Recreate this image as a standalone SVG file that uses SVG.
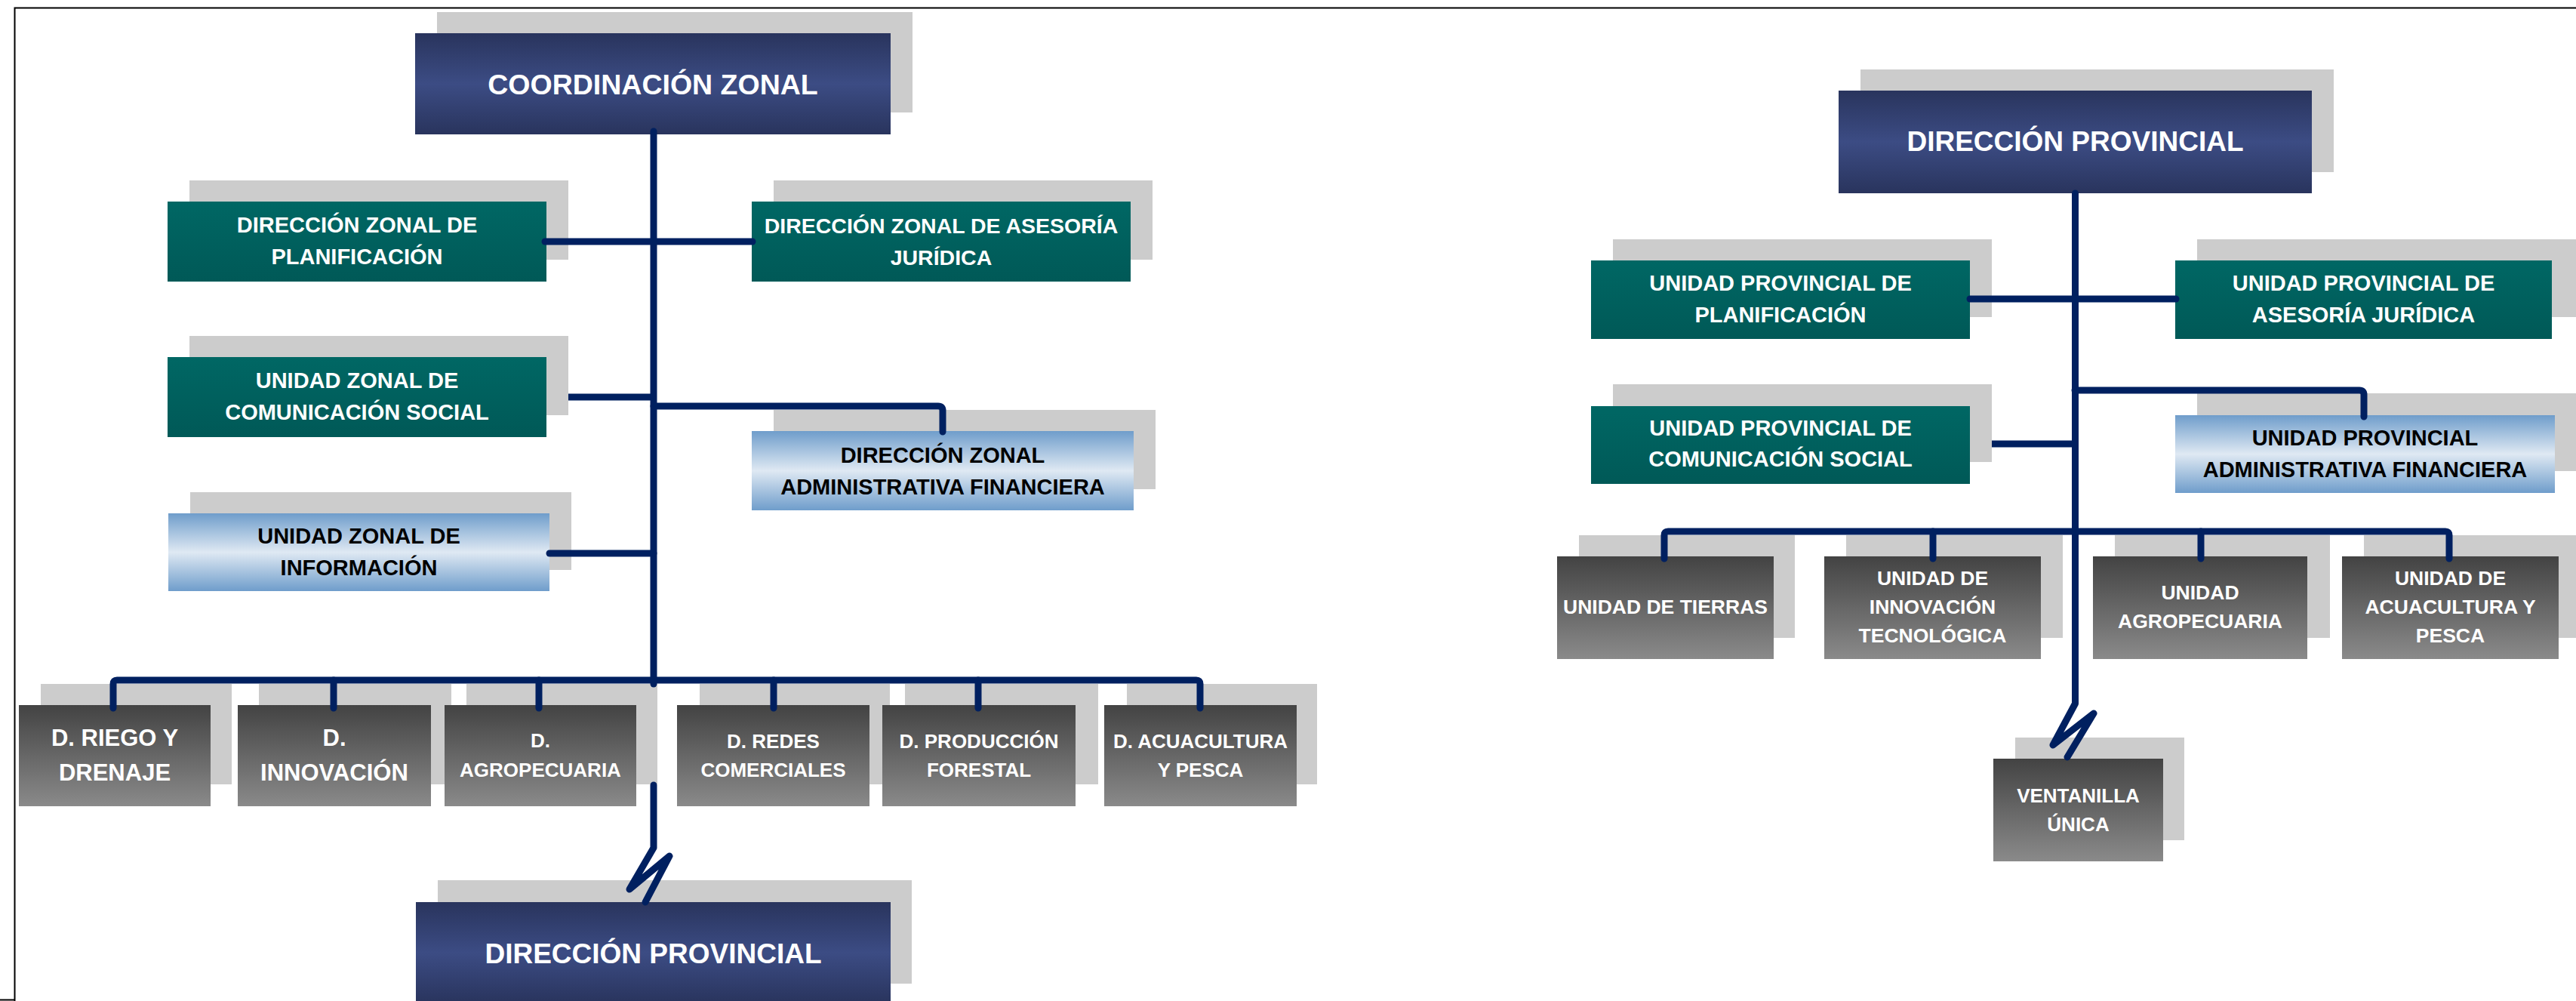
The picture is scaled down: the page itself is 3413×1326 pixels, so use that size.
<svg xmlns="http://www.w3.org/2000/svg" width="3413" height="1326" viewBox="0 0 3413 1326">
<defs>
<linearGradient id="gNavy" x1="0" y1="0" x2="0" y2="1">
<stop offset="0" stop-color="#29345d"/><stop offset="0.5" stop-color="#3c4c84"/><stop offset="1" stop-color="#29345d"/>
</linearGradient>
<linearGradient id="gTeal" x1="0" y1="0" x2="0" y2="1">
<stop offset="0" stop-color="#006764"/><stop offset="1" stop-color="#005957"/>
</linearGradient>
<linearGradient id="gBlue" x1="0" y1="0" x2="0" y2="1">
<stop offset="0" stop-color="#6f9dcb"/><stop offset="0.5" stop-color="#dfe9f3"/><stop offset="1" stop-color="#6f9dcb"/>
</linearGradient>
<linearGradient id="gGray" x1="0" y1="0" x2="0" y2="1">
<stop offset="0" stop-color="#434343"/><stop offset="1" stop-color="#8a8a8a"/>
</linearGradient>
</defs>
<style>
.sh{fill:#cccccc}
.navy{fill:url(#gNavy)}
.teal{fill:url(#gTeal)}
.blue{fill:url(#gBlue)}
.gray{fill:url(#gGray)}
text{font-family:"Liberation Sans",Arial,sans-serif;font-weight:bold;text-anchor:middle}
.w{fill:#ffffff}
.k{fill:#000000}
.t37{font-size:37.5px}
.t29{font-size:29px}
.t31{font-size:31px}
.t26{font-size:26px}
.t265{font-size:26.5px}
.c{fill:none;stroke:#002060;stroke-width:9;stroke-linecap:round;stroke-linejoin:round}
.cb{stroke-linecap:butt}
.frame{fill:none;stroke:#000;stroke-width:2}
</style>
<rect width="3413" height="1326" fill="#ffffff"/>
<g id="frame">
<path class="frame" d="M19.5,1326 V10.5 H3413"/>
<path class="frame" d="M0,1324.5 H20"/>
</g>

<g id="n-coordinacion-zonal">
<rect class="sh" x="579" y="16" width="630" height="133"/>
<rect class="navy" x="550" y="44" width="630" height="134"/>
<text class="w t37" x="865" y="125">COORDINACIÓN ZONAL</text>
</g>
<g id="n-dz-planificacion">
<rect class="sh" x="251" y="239" width="502" height="105"/>
<rect class="teal" x="222" y="267" width="502" height="106"/>
<text class="w t29" x="473" y="308">DIRECCIÓN ZONAL DE</text>
<text class="w t29" x="473" y="350">PLANIFICACIÓN</text>
</g>
<g id="n-dz-asesoria">
<rect class="sh" x="1025" y="239" width="502" height="105"/>
<rect class="teal" x="996" y="267" width="502" height="106"/>
<text class="w" style="font-size:28.5px" x="1247" y="309">DIRECCIÓN ZONAL DE ASESORÍA</text>
<text class="w" style="font-size:28.5px" x="1247" y="351">JURÍDICA</text>
</g>
<g id="n-uz-comunicacion">
<rect class="sh" x="251" y="445" width="502" height="105"/>
<rect class="teal" x="222" y="473" width="502" height="106"/>
<text class="w t29" x="473" y="514">UNIDAD ZONAL DE</text>
<text class="w t29" x="473" y="556">COMUNICACIÓN SOCIAL</text>
</g>
<g id="n-dz-administrativa">
<rect class="sh" x="1025" y="543" width="506" height="105"/>
<rect class="blue" x="996" y="571" width="506" height="105"/>
<text class="k t29" x="1249" y="613">DIRECCIÓN ZONAL</text>
<text class="k t29" x="1249" y="655">ADMINISTRATIVA FINANCIERA</text>
</g>
<g id="n-uz-informacion">
<rect class="sh" x="252" y="652" width="505" height="103"/>
<rect class="blue" x="223" y="680" width="505" height="103"/>
<text class="k t29" x="475.5" y="720">UNIDAD ZONAL DE</text>
<text class="k t29" x="475.5" y="762">INFORMACIÓN</text>
</g>
<g id="n-d-riego">
<rect class="sh" x="54" y="906" width="253" height="133"/>
<rect class="gray" x="25" y="934" width="254" height="134"/>
<text class="w t31" x="152" y="988">D. RIEGO Y</text>
<text class="w t31" x="152" y="1034">DRENAJE</text>
</g>
<g id="n-d-innovacion">
<rect class="sh" x="343" y="906" width="255" height="133"/>
<rect class="gray" x="315" y="934" width="256" height="134"/>
<text class="w t31" x="443" y="988">D.</text>
<text class="w t31" x="443" y="1034">INNOVACIÓN</text>
</g>
<g id="n-d-agropecuaria">
<rect class="sh" x="618" y="906" width="253" height="133"/>
<rect class="gray" x="589" y="934" width="254" height="134"/>
<text class="w t26" x="716" y="990">D.</text>
<text class="w t26" x="716" y="1029">AGROPECUARIA</text>
</g>
<g id="n-d-redes">
<rect class="sh" x="927" y="906" width="252" height="133"/>
<rect class="gray" x="897" y="934" width="255" height="134"/>
<text class="w t26" x="1024.5" y="991">D. REDES</text>
<text class="w t26" x="1024.5" y="1029">COMERCIALES</text>
</g>
<g id="n-d-forestal">
<rect class="sh" x="1199" y="906" width="256" height="133"/>
<rect class="gray" x="1169" y="934" width="256" height="134"/>
<text class="w t26" x="1297" y="991">D. PRODUCCIÓN</text>
<text class="w t26" x="1297" y="1029">FORESTAL</text>
</g>
<g id="n-d-acuacultura">
<rect class="sh" x="1493" y="906" width="252" height="133"/>
<rect class="gray" x="1463" y="934" width="255" height="134"/>
<text class="w t26" x="1590.5" y="991">D. ACUACULTURA</text>
<text class="w t26" x="1590.5" y="1029">Y PESCA</text>
</g>
<g id="n-dp-left">
<rect class="sh" x="580" y="1166" width="628" height="137"/>
<rect class="navy" x="551" y="1195" width="629" height="134"/>
<text class="w" style="font-size:37px" x="865.5" y="1276">DIRECCIÓN PROVINCIAL</text>
</g>

<g id="n-dp-right">
<rect class="sh" x="2465" y="92" width="627" height="136"/>
<rect class="navy" x="2436" y="120" width="627" height="136"/>
<text class="w" style="font-size:37px" x="2749.5" y="200">DIRECCIÓN PROVINCIAL</text>
</g>
<g id="n-up-planificacion">
<rect class="sh" x="2137" y="317" width="502" height="103"/>
<rect class="teal" x="2108" y="345" width="502" height="104"/>
<text class="w t29" x="2359" y="385">UNIDAD PROVINCIAL DE</text>
<text class="w t29" x="2359" y="427">PLANIFICACIÓN</text>
</g>
<g id="n-up-asesoria">
<rect class="sh" x="2911" y="317" width="502" height="103"/>
<rect class="teal" x="2882" y="345" width="499" height="104"/>
<text class="w t29" x="3131.5" y="385">UNIDAD PROVINCIAL DE</text>
<text class="w t29" x="3131.5" y="427">ASESORÍA JURÍDICA</text>
</g>
<g id="n-up-comunicacion">
<rect class="sh" x="2137" y="509" width="502" height="103"/>
<rect class="teal" x="2108" y="538" width="502" height="103"/>
<text class="w t29" x="2359" y="577">UNIDAD PROVINCIAL DE</text>
<text class="w t29" x="2359" y="618">COMUNICACIÓN SOCIAL</text>
</g>
<g id="n-up-administrativa">
<rect class="sh" x="2911" y="521" width="503" height="103"/>
<rect class="blue" x="2882" y="550" width="503" height="103"/>
<text class="k t29" x="3133.5" y="590">UNIDAD PROVINCIAL</text>
<text class="k t29" x="3133.5" y="632">ADMINISTRATIVA FINANCIERA</text>
</g>
<g id="n-u-tierras">
<rect class="sh" x="2092" y="709" width="286" height="136"/>
<rect class="gray" x="2063" y="737" width="287" height="136"/>
<text class="w t265" x="2206.5" y="813">UNIDAD DE TIERRAS</text>
</g>
<g id="n-u-innovacion">
<rect class="sh" x="2446" y="709" width="287" height="136"/>
<rect class="gray" x="2417" y="737" width="287" height="136"/>
<text class="w t265" x="2560.5" y="775">UNIDAD DE</text>
<text class="w t265" x="2560.5" y="813">INNOVACIÓN</text>
<text class="w t265" x="2560.5" y="851">TECNOLÓGICA</text>
</g>
<g id="n-u-agropecuaria">
<rect class="sh" x="2802" y="709" width="285" height="136"/>
<rect class="gray" x="2773" y="737" width="284" height="136"/>
<text class="w t265" x="2915" y="794">UNIDAD</text>
<text class="w t265" x="2915" y="832">AGROPECUARIA</text>
</g>
<g id="n-u-acuacultura">
<rect class="sh" x="3132" y="709" width="285" height="136"/>
<rect class="gray" x="3103" y="737" width="287" height="136"/>
<text class="w t265" x="3246.5" y="775">UNIDAD DE</text>
<text class="w t265" x="3246.5" y="813">ACUACULTURA Y</text>
<text class="w t265" x="3246.5" y="851">PESCA</text>
</g>
<g id="n-ventanilla">
<rect class="sh" x="2670" y="977" width="224" height="136"/>
<rect class="gray" x="2641" y="1005" width="225" height="136"/>
<text class="w t26" x="2753.5" y="1063">VENTANILLA</text>
<text class="w t26" x="2753.5" y="1101">ÚNICA</text>
</g>

<g id="connectors">
<path class="c" d="M866,174 V906"/>
<path class="c" d="M866,1040 V1123 L834,1178 L887,1134 L855,1195"/>
<path class="c" d="M722,320 H997"/>
<path class="c cb" d="M753,526 H866"/>
<path class="c" d="M866,538 H1243 Q1249,538 1249,544 V572"/>
<path class="c" d="M728,733 H866"/>
<path class="c" d="M150,938 V906 Q150,901 155,901 H1585 Q1590,901 1590,906 V938"/>
<path class="c" d="M442,901 V938 M714,901 V938 M1025,901 V938 M1296,901 V938"/>

<path class="c" d="M2749.5,256 V932 L2720,987 L2774,945 L2739,1003"/>
<path class="c" d="M2610,396 H2883"/>
<path class="c cb" d="M2639,588 H2749"/>
<path class="c" d="M2749,517 H3126 Q3132,517 3132,523 V552"/>
<path class="c" d="M2205,740 V709 Q2205,704 2210,704 H3240 Q3245,704 3245,709 V740"/>
<path class="c" d="M2561,704 V740 M2916,704 V740"/>
</g>
</svg>
